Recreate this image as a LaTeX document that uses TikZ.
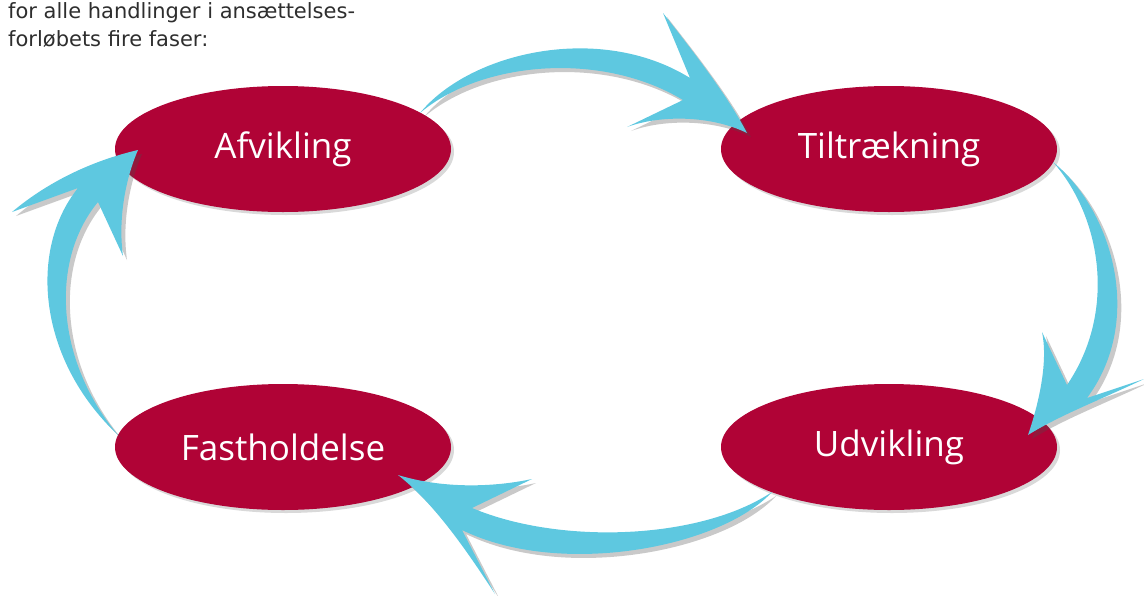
\documentclass[tikz,border=0pt]{standalone}
\usepackage{fontspec}
\usetikzlibrary{shapes.geometric,shadows}
\newfontfamily\labelfont{Open Sans}
\newfontfamily\titlefont{DejaVu Sans}
\definecolor{phase}{HTML}{B00336}
\definecolor{arrowc}{HTML}{5EC8E0}
\definecolor{titlec}{HTML}{2E2E2E}
\tikzset{
  phasebox/.style={ellipse, fill=phase, minimum width=336pt, minimum height=126pt,
    inner sep=0pt, text=white, font=\labelfont\fontsize{35}{40}\selectfont,
    drop shadow={shadow xshift=3pt, shadow yshift=-3pt, opacity=0.15, fill=black}},
  bigarrow/.style={fill=arrowc,
    drop shadow={shadow xshift=4pt, shadow yshift=-4pt, opacity=0.3, fill=black!70}},
  titletext/.style={anchor=base west, inner sep=0pt, text=titlec,
    font=\titlefont\fontsize{21}{28}\selectfont}
}
\begin{document}
\begin{tikzpicture}[x=1pt, y=-1pt]
\useasboundingbox (0,0) rectangle (1144,595);
\node[titletext] (t1) at (8,18) {for alle handlinger i ansættelses-};
\node[titletext] (t2) at (8,46) {forløbets fire faser:};

\node[phasebox] (afv) at (283,149) {Afvikling};
\node[phasebox] (til) at (889,149) {Tiltrækning};
\node[phasebox] (fas) at (283,447) {Fastholdelse};
\node[phasebox] (udv) at (889,447) {Udvikling};

% Afvikling -> Tiltraekning
\fill[bigarrow] (420,113) .. controls (470,52) and (600,22) .. (690,78)
  -- (663,13) .. controls (700,60) and (730,100) .. (747,133)
  .. controls (710,115) and (660,115) .. (627,127)
  -- (683,100) .. controls (600,50) and (480,62) .. (420,113) -- cycle;
% Tiltraekning -> Udvikling
\fill[bigarrow] (1053,162) .. controls (1112,210) and (1145,320) .. (1087,398)
  -- (1144,379) .. controls (1100,400) and (1060,415) .. (1028,435)
  .. controls (1040,400) and (1048,360) .. (1042,332)
  -- (1067,385) .. controls (1118,310) and (1100,215) .. (1053,162) -- cycle;
% Udvikling -> Fastholdelse
\fill[bigarrow] (772,492) .. controls (720,548) and (560,578) .. (462,530)
  -- (495,594) .. controls (460,540) and (430,500) .. (398,475)
  .. controls (440,488) and (490,488) .. (532,479)
  -- (472,508) .. controls (560,545) and (700,540) .. (772,492) -- cycle;
% Fastholdelse -> Afvikling
\fill[bigarrow] (118,435) .. controls (38,360) and (28,250) .. (78,188)
  -- (12,212) .. controls (50,180) and (95,160) .. (138,150)
  .. controls (125,180) and (118,220) .. (123,256)
  -- (98,202) .. controls (50,260) and (55,360) .. (118,435) -- cycle;
\end{tikzpicture}
\end{document}
